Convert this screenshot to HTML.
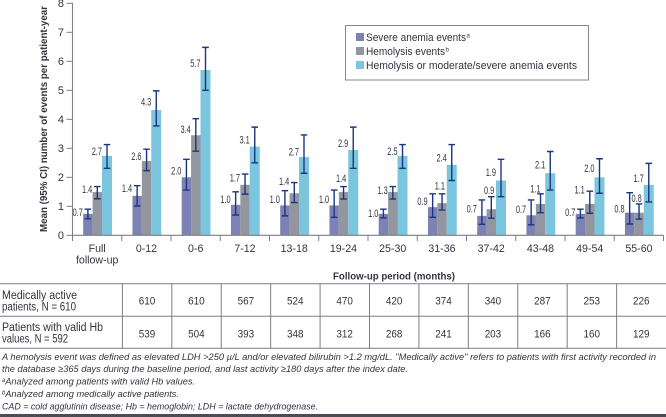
<!DOCTYPE html>
<html lang="en">
<head>
<meta charset="utf-8">
<title>Mean events per patient-year by follow-up period</title>
<style>
html,body{margin:0;padding:0;background:#fff;}
svg{display:block;font-family:"Liberation Sans",sans-serif;}
text{fill:#33333f;}
</style>
</head>
<body>
<svg id="chart" width="666" height="417" viewBox="0 0 666 417" xmlns="http://www.w3.org/2000/svg">
  <text transform="translate(47,119) rotate(-90)" text-anchor="middle" font-size="10.5" font-weight="bold" textLength="226" lengthAdjust="spacingAndGlyphs">Mean (95% CI) number of events per patient-year</text>
  <g id="marks"></g>
  <g>
    <rect x="345.5" y="25.5" width="243" height="54.5" fill="#fff" stroke="#85868f" stroke-width="1"/>
    <rect x="356" y="33" width="8" height="8" fill="#7d82b4"/>
    <text x="366" y="41" font-size="11" textLength="100" lengthAdjust="spacingAndGlyphs">Severe anemia events</text>
    <text x="466.5" y="37.5" font-size="6">a</text>
    <rect x="356" y="47" width="8" height="8" fill="#94969f"/>
    <text x="366" y="55" font-size="11" textLength="79" lengthAdjust="spacingAndGlyphs">Hemolysis events</text>
    <text x="445.5" y="51.5" font-size="6">b</text>
    <rect x="356" y="61" width="8" height="8" fill="#7cc5de"/>
    <text x="366" y="69" font-size="11" textLength="211" lengthAdjust="spacingAndGlyphs">Hemolysis or moderate/severe anemia events</text>
  </g>
  <text x="333" y="279.5" font-size="10.5" font-weight="bold" textLength="122" lengthAdjust="spacingAndGlyphs">Follow-up period (months)</text>
  <g id="table">
    <text x="2" y="299" font-size="11.5" textLength="75" lengthAdjust="spacingAndGlyphs">Medically active</text>
    <text x="2" y="310.5" font-size="11.5" textLength="74" lengthAdjust="spacingAndGlyphs">patients, N = 610</text>
    <text x="2" y="331" font-size="11.5" textLength="101" lengthAdjust="spacingAndGlyphs">Patients with valid Hb</text>
    <text x="2" y="342.5" font-size="11.5" textLength="66" lengthAdjust="spacingAndGlyphs">values, N = 592</text>
  </g>
  <g font-size="9.5" font-style="italic">
    <text x="2" y="360" textLength="654" lengthAdjust="spacingAndGlyphs">A hemolysis event was defined as elevated LDH &gt;250 µ/L and/or elevated bilirubin &gt;1.2 mg/dL. "Medically active" refers to patients with first activity recorded in</text>
    <text x="2" y="372" textLength="406" lengthAdjust="spacingAndGlyphs">the database ≥365 days during the baseline period, and last activity ≥180 days after the index date.</text>
    <text x="2" y="384.5" textLength="193" lengthAdjust="spacingAndGlyphs"><tspan font-size="6" dy="-2.5">a</tspan><tspan dy="2.5">Analyzed among patients with valid Hb values.</tspan></text>
    <text x="2" y="397" textLength="177" lengthAdjust="spacingAndGlyphs"><tspan font-size="6" dy="-2.5">b</tspan><tspan dy="2.5">Analyzed among medically active patients.</tspan></text>
    <text x="2" y="409.5" textLength="316" lengthAdjust="spacingAndGlyphs">CAD = cold agglutinin disease; Hb = hemoglobin; LDH = lactate dehydrogenase.</text>
  </g>
  <rect x="0" y="414" width="666" height="3" fill="#4a4d57"/>
</svg>
<script>
const categories = ["Full|follow-up","0-12","0-6","7-12","13-18","19-24","25-30","31-36","37-42","43-48","49-54","55-60"];
const yTickLabels = [0,1,2,3,4,5,6,7,8];
const severeMean = [0.74,1.36,2.0,1.05,1.03,1.03,0.74,0.97,0.67,0.69,0.74,0.78];
const severeLow = [0.57,1.01,1.56,0.70,0.67,0.62,0.6,0.62,0.38,0.36,0.6,0.39];
const severeHigh = [0.9,1.71,2.62,1.5,1.54,1.56,0.9,1.43,1.22,1.22,0.9,1.47];
const severeLabels = ["0.7","1.4","2.0","1.0","1.0","1.0","1.0","0.9","0.7","0.7","0.7","0.8"];
const hemolysisMean = [1.49,2.56,3.45,1.74,1.45,1.49,1.49,1.11,0.9,1.08,1.08,0.78];
const hemolysisLow = [1.26,2.23,2.9,1.42,1.13,1.25,1.25,0.87,0.59,0.78,0.76,0.56];
const hemolysisHigh = [1.68,2.97,4.02,2.11,1.82,1.68,1.68,1.43,1.33,1.43,1.52,1.08];
const hemolysisLabels = ["1.4","2.6","3.4","1.7","1.4","1.4","1.3","1.1","0.9","1.1","1.1","0.8"];
const combinedMean = [2.74,4.32,5.7,3.06,2.7,2.94,2.74,2.43,1.89,2.14,2.0,1.74];
const combinedLow = [2.31,3.77,5.0,2.5,2.14,2.31,2.31,1.89,1.33,1.56,1.45,1.15];
const combinedHigh = [3.13,4.98,6.48,3.73,3.46,3.73,3.13,3.13,2.62,2.89,2.64,2.48];
const combinedLabels = ["2.7","4.3","5.7","3.1","2.7","2.9","2.5","2.4","1.9","2.1","2.0","1.7"];
const medicallyActive = [610,610,567,524,470,420,374,340,287,253,226];
const validHb = [539,504,393,348,312,268,241,203,166,160,129];

const NS = "http://www.w3.org/2000/svg";
const marks = document.getElementById("marks");
const table = document.getElementById("table");
const xBand = function (i) { return 72.5 + 49.25 * i; };
const yScale = function (v) { return 235.3 - 29 * v; };
function make(parent, tag, attrs, text) {
  const el = document.createElementNS(NS, tag);
  for (const k in attrs) el.setAttribute(k, attrs[k]);
  if (text !== undefined) el.textContent = text;
  parent.appendChild(el);
  return el;
}
function draw() {
  const axisColor = "#7d7e87";
  const ciColor = "#1a3680";
  const barLayout = [
    {key: "severe", mean: severeMean, low: severeLow, high: severeHigh, labels: severeLabels, fill: "#7d82b4", off: 10.7, w: 9.4,
     lift: [1.3,7.7,6.7,5.7,6,6,0.7,5.7,7,6,1.3,3.7], dx: [-5,-5,-5,-5,-5,-5,-5,-5,-5,-5,-5,-5]},
    {key: "hemolysis", mean: hemolysisMean, low: hemolysisLow, high: hemolysisHigh, labels: hemolysisLabels, fill: "#94969f", off: 20.1, w: 9.4,
     lift: [2.7,5,6,7,12,13.7,2,17.3,19,15.3,14,14.3], dx: [-5,-5,-5,-5,-5,2.7,-5,3,3,0,-5,2.7]},
    {key: "combined", mean: combinedMean, low: combinedLow, high: combinedHigh, labels: combinedLabels, fill: "#7cc5de", off: 29.5, w: 10,
     lift: [4.3,8,6.7,6.7,5.3,6.7,4.3,7,8,8.3,9,6.3], dx: [-5,-5,-5,-5,-5,-5,-5,-5,-5,-5,-5,-5]}
  ];
  barLayout.forEach(function (s) {
    s.mean.forEach(function (v, i) {
      const x = xBand(i) + s.off;
      const bar = make(marks, "rect", {x: x, y: yScale(v), width: s.w, height: yScale(0) - yScale(v), fill: s.fill});
      
      
    });
  });
  barLayout.forEach(function (s) {
    s.mean.forEach(function (v, i) {
      const x = xBand(i) + s.off;
      const cx = x + s.w / 2;
      const err = make(marks, "path", {
        d: "M" + cx + " " + yScale(s.low[i]) + "V" + yScale(s.high[i]) +
           "M" + (cx - 3.3) + " " + yScale(s.low[i]) + "H" + (cx + 3.3) +
           "M" + (cx - 3.3) + " " + yScale(s.high[i]) + "H" + (cx + 3.3),
        fill: "none", stroke: ciColor, "stroke-width": 1.4
      });
      
      
      const lab = make(marks, "text", {
        x: cx + s.dx[i], y: yScale(v) - s.lift[i] + 3.7, "text-anchor": "end", "font-size": 10.8,
        textLength: 10.3, lengthAdjust: "spacingAndGlyphs"
      }, s.labels[i]);
      
      
    });
  });
  const yAxis = make(marks, "path", {d: "M72.5 3V235.3", stroke: axisColor, "stroke-width": 1.1, fill: "none"});
  
  
  const xAxis = make(marks, "path", {d: "M72.5 235.3H" + xBand(12), stroke: axisColor, "stroke-width": 1.1, fill: "none"});
  
  
  yTickLabels.forEach(function (t) {
    const tick = make(marks, "path", {d: "M66.5 " + yScale(t) + "H72.5", stroke: axisColor, "stroke-width": 1});
    
    
    const lab = make(marks, "text", {x: 64, y: yScale(t) + 3.9, "text-anchor": "end", "font-size": 11}, t);
    
    
  });
  for (let i = 0; i <= categories.length; i++) {
    const tick = make(marks, "path", {d: "M" + xBand(i) + " 235.3V241", stroke: axisColor, "stroke-width": 1});
    
    
  }
  categories.forEach(function (c, i) {
    const parts = c.split("|");
    const cx = xBand(i) + 24.7;
    parts.forEach(function (p, j) {
      const lab = make(marks, "text", {x: cx, y: 252 + j * 11.7, "text-anchor": "middle", "font-size": 10.6}, p);
      
      
    });
  });
  const rules = [283.7, 316.3, 348.3];
  rules.forEach(function (y, j) {
    const line = make(table, "path", {d: "M0 " + y + "H666", stroke: axisColor, "stroke-width": 1});
    
    
  });
  medicallyActive.forEach(function (v, i) {
    const left = 122.4 + 49.42 * i;
    const line = make(table, "path", {d: "M" + left + " 283.7V348.3", stroke: axisColor, "stroke-width": 1});
    
    
    const a = make(table, "text", {x: left + 24.6, y: 304.6, "text-anchor": "middle", "font-size": 10.8, textLength: 16.5, lengthAdjust: "spacingAndGlyphs"}, v);
    
    
    const b = make(table, "text", {x: left + 24.6, y: 337.3, "text-anchor": "middle", "font-size": 10.8, textLength: 16.5, lengthAdjust: "spacingAndGlyphs"}, validHb[i]);
    
    
  });
}
draw();
</script>
</body>
</html>
